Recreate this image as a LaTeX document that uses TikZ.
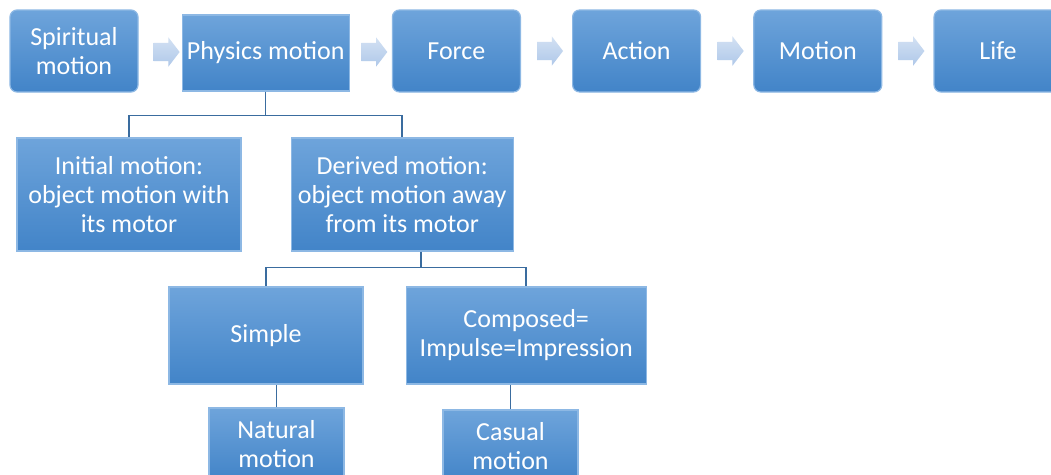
\documentclass[tikz,border=0pt]{standalone}
\usepackage{fontspec}
\setmainfont{Carlito}
\usepackage{tikz}
\usetikzlibrary{positioning,calc,shapes.arrows}

\definecolor{boxtop}{HTML}{6EA4DB}
\definecolor{boxbot}{HTML}{4284C8}
\definecolor{boxedge}{HTML}{8DB8E4}
\definecolor{flowtop}{HTML}{D3E1F3}
\definecolor{flowbot}{HTML}{AFC8E9}
\definecolor{linkcol}{HTML}{3A6C9F}

\begin{document}
\begin{tikzpicture}[x=1pt,y=-1pt,node distance=43pt,
                    box/.style={rectangle,draw=boxedge,line width=1.2pt,
                      top color=boxtop,bottom color=boxbot,text=white,
                      align=center,inner sep=2pt,
                      font=\fontsize{26}{29}\selectfont},
                    rbox/.style={box,rounded corners=7pt,
                      minimum width=128pt,minimum height=82pt},
                    flow/.style={single arrow,draw=none,
                      top color=flowtop,bottom color=flowbot,
                      minimum height=26pt,inner sep=9pt,
                      single arrow head extend=5.5pt,single arrow tip angle=105},
                    link/.style={draw=linkcol,line width=1.5pt}]
  \clip (0,0) rectangle (1051,474);
  \fill[white] (0,0) rectangle (1051,474);

  % top row
  \node[rbox]            (Spiritual) at (74,51) {Spiritual\\motion};
  \node[box, minimum width=167pt, minimum height=76pt]
                         (Physics) [right=43pt of Spiritual, yshift=-2pt] {Physics motion};
  \node[rbox]            (Force) [right=42pt of Physics, yshift=2pt] {Force};
  \node[rbox]            (Action) [right=51pt of Force] {Action};
  \node[rbox]            (Motion) [right=52pt of Action] {Motion};
  \node[rbox]            (Life) [right=51pt of Motion] {Life};

  \node[flow] (a1) at ($(Spiritual.east)!0.5!(Physics.west)+(3,0)$) {};
  \node[flow] (a2) at ($(Physics.east)!0.5!(Force.west)$) {};
  \node[flow] (a3) at ($(Force.east)!0.5!(Action.west)$) {};
  \node[flow] (a4) at ($(Action.east)!0.5!(Motion.west)$) {};
  \node[flow] (a5) at ($(Motion.east)!0.5!(Life.west)$) {};

  % tree below
  \node[box, minimum width=224pt, minimum height=113pt]
                         (Initial) at (129,194.5) {Initial motion:\\object motion with\\its motor};
  \node[box, minimum width=222pt, minimum height=113pt]
                         (Derived) [right=49pt of Initial] {Derived motion:\\object motion away\\from its motor};
  \node[box, minimum width=194pt, minimum height=97pt]
                         (Simple) at (266,335.5) {Simple};
  \node[box, minimum width=240pt, minimum height=97pt]
                         (Composed) [right=42pt of Simple] {Composed=\\Impulse=Impression};
  \node[box, minimum width=135pt, minimum height=72pt]
                         (Natural) at (276.5,444) {Natural\\motion};
  \node[box, minimum width=135pt, minimum height=72pt]
                         (Casual) at (510.5,446) {Casual\\motion};

  \coordinate (dstem) at ([xshift=19pt]Derived.south);

  \path[link] (Physics.south) -- ++(0,24) -| (Initial.north)
              (Physics.south) -- ++(0,24) -| (Derived.north)
              (dstem) -- ++(0,16) -| (Simple.north)
              (dstem) -- ++(0,16) -| (Composed.north)
              (Natural.north) -- (Natural.north |- Simple.south)
              (Casual.north) -- (Casual.north |- Composed.south);
\end{tikzpicture}
\end{document}
